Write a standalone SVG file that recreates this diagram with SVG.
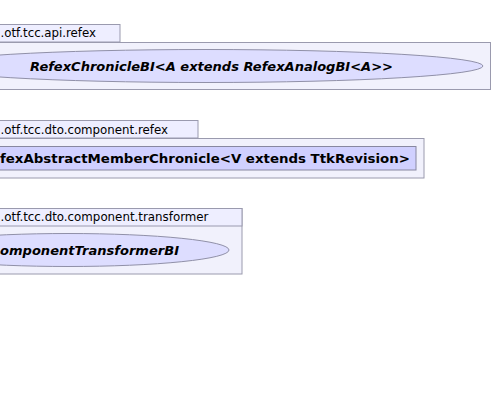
<svg xmlns="http://www.w3.org/2000/svg" width="493" height="409" viewBox="0 0 493 409">
<style>
.tab{fill:#EEEEFF;stroke:#9A9AAE;stroke-width:1}
.body{fill:#F1F1FC;stroke:#9A9AAE;stroke-width:1}
.uc{fill:#DDDDFF;stroke:#9090A8;stroke-width:1}
.cls{fill:#D0D0FF;stroke:#8888A0;stroke-width:1}
.pkg{font-family:"DejaVu Sans",sans-serif;font-size:12.5px;fill:#000}
.lbl{font-family:"DejaVu Sans",sans-serif;font-size:13px;font-weight:bold;fill:#000}
.it{font-style:italic}
</style>
<rect width="493" height="409" fill="#FFFFFF"/>
<g id="pkg-api-refex">
<rect class="tab" x="-5" y="24.5" width="125" height="17.5"/>
<rect class="body" x="-5" y="42.5" width="495.5" height="47"/>
<text class="pkg" x="0.5" y="37" textLength="95.5" lengthAdjust="spacingAndGlyphs">.otf.tcc.api.refex</text>
</g>
<g id="node-refex-chronicle">
<ellipse class="uc" cx="206" cy="66" rx="277" ry="16.5"/>
<text class="lbl it" x="30" y="70.5" textLength="363" lengthAdjust="spacingAndGlyphs">RefexChronicleBI&lt;A extends RefexAnalogBI&lt;A&gt;&gt;</text>
</g>
<g id="pkg-dto-component-refex">
<rect class="tab" x="-5" y="120.5" width="203" height="17.5"/>
<rect class="body" x="-5" y="138.5" width="429" height="39.5"/>
<text class="pkg" x="0.5" y="133.5" textLength="167.5" lengthAdjust="spacingAndGlyphs">.otf.tcc.dto.component.refex</text>
</g>
<g id="node-member-chronicle">
<rect class="cls" x="-5" y="146.5" width="421" height="23.5"/>
<text class="lbl" x="0" y="163" textLength="410" lengthAdjust="spacingAndGlyphs">fexAbstractMemberChronicle&lt;V extends TtkRevision&gt;</text>
</g>
<g id="pkg-dto-component-transformer">
<rect class="body" x="-5" y="208.5" width="247" height="65.5"/>
<rect class="tab" x="-5" y="208.5" width="247" height="17.5"/>
<text class="pkg" x="0.5" y="221" textLength="208" lengthAdjust="spacingAndGlyphs">.otf.tcc.dto.component.transformer</text>
</g>
<g id="node-transformer">
<ellipse class="uc" cx="68" cy="250" rx="161" ry="16.5"/>
<text class="lbl it" x="0" y="255" textLength="179" lengthAdjust="spacingAndGlyphs">omponentTransformerBI</text>
</g>
<g id="connectors"></g>
</svg>
